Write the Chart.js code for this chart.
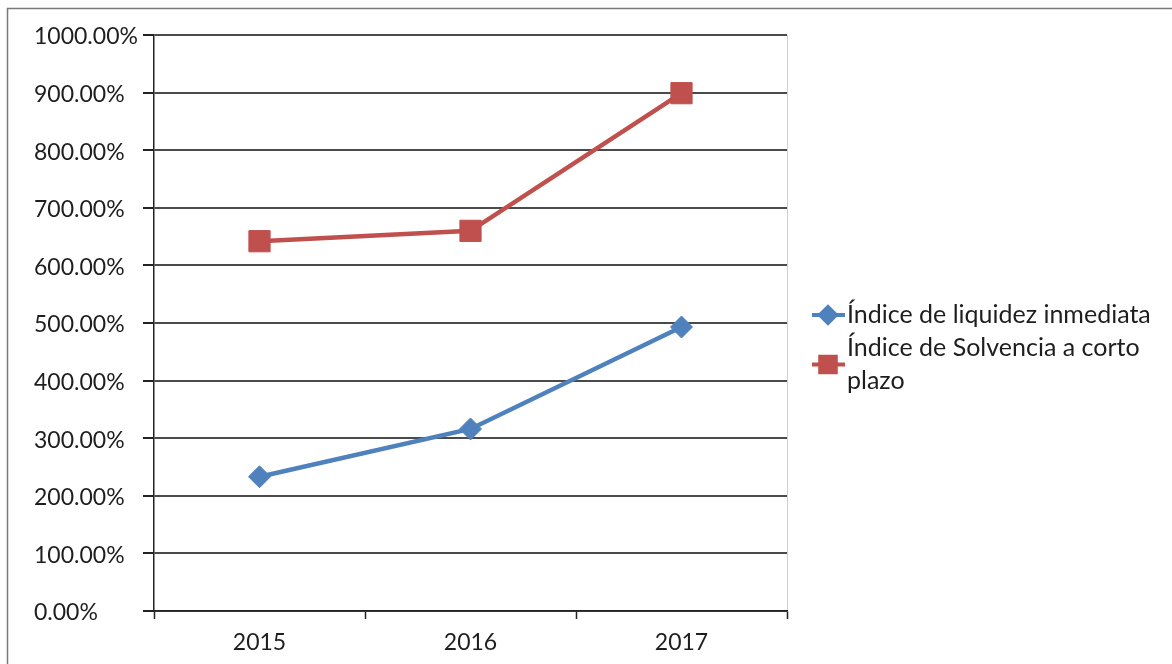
<!DOCTYPE html>
<html lang="es">
<head>
    <meta charset="UTF-8">
    <title>Índices de liquidez</title>
    <style>
        html, body { margin: 0; padding: 0; background: #fff; }
        #wrap { position: relative; width: 1172px; height: 664px; }
    </style>
</head>
<body>
    <div id="wrap"><canvas id="chart" width="1172" height="664"></canvas></div>

    <script src="https://cdn.jsdelivr.net/npm/chart.js"></script>
    <script>
        const years = ['2015', '2016', '2017'];
        const seriesNames = ['Índice de liquidez inmediata', 'Índice de Solvencia a corto plazo'];
        const liquidez = [233, 316, 493];
        const solvencia = [642, 660, 899];
        const yMin = 0, yMax = 1000, yStep = 100;

        const FONT = 'Lato, "Open Sans", sans-serif';
        const TEXT = '#1e1e1e';

        // outer frame, right edge of plot area and a wrapped legend on the right
        const framePlugin = {
            id: 'frame',
            beforeDraw(chart) {
                const ctx = chart.ctx;
                ctx.save();
                ctx.strokeStyle = '#7a7a7a';
                ctx.lineWidth = 1.5;
                ctx.strokeRect(7.5, 8.5, 1300, 800);
                const a = chart.chartArea;
                ctx.strokeStyle = '#d0d0d0';
                ctx.lineWidth = 1;
                ctx.beginPath();
                ctx.moveTo(a.right + 0.5, a.top);
                ctx.lineTo(a.right + 0.5, a.bottom);
                ctx.stroke();
                ctx.restore();
            },
            afterDraw(chart) {
                const ctx = chart.ctx;
                const a = chart.chartArea;
                const x0 = a.right + 25;
                const textX = x0 + 35;
                const maxW = 1172 - textX - 12;
                const lineH = 33;
                let y = 315;
                ctx.save();
                ctx.font = '25px ' + FONT;
                ctx.textBaseline = 'middle';
                ctx.fillStyle = TEXT;
                chart.data.datasets.forEach(ds => {
                    // wrap label into lines
                    const words = ds.label.split(' ');
                    const lines = [];
                    let cur = '';
                    words.forEach(w => {
                        const t = cur ? cur + ' ' + w : w;
                        if (ctx.measureText(t).width > maxW && cur) { lines.push(cur); cur = w; }
                        else cur = t;
                    });
                    lines.push(cur);
                    const cy = y + (lines.length - 1) * lineH / 2;
                    ctx.strokeStyle = ds.borderColor;
                    ctx.lineWidth = 4;
                    ctx.beginPath();
                    ctx.moveTo(x0, cy);
                    ctx.lineTo(x0 + 33, cy);
                    ctx.stroke();
                    Chart.helpers.drawPoint(ctx, {
                        pointStyle: ds.pointStyle,
                        radius: ds.pointStyle === 'rect' ? 11 : 8,
                        borderWidth: 1
                    }, x0 + 16, cy);
                    ctx.fillStyle = ds.borderColor;
                    ctx.fill();
                    ctx.fillStyle = TEXT;
                    lines.forEach((l, i) => ctx.fillText(l, textX, y + i * lineH));
                    y += lines.length * lineH;
                });
                ctx.restore();
            }
        };

        new Chart(document.getElementById('chart'), {
            type: 'line',
            data: {
                labels: years,
                datasets: [
                    {
                        label: seriesNames[0],
                        data: liquidez,
                        borderColor: '#4F81BD',
                        backgroundColor: '#4F81BD',
                        borderWidth: 4.5,
                        pointStyle: 'rectRot',
                        pointRadius: 11,
                        pointHoverRadius: 11,
                        pointBorderWidth: 1
                    },
                    {
                        label: seriesNames[1],
                        data: solvencia,
                        borderColor: '#C0504D',
                        backgroundColor: '#C0504D',
                        borderWidth: 4.5,
                        pointStyle: 'rect',
                        pointRadius: 15,
                        pointHoverRadius: 15,
                        pointBorderWidth: 1
                    }
                ]
            },
            options: {
                responsive: false,
                animation: false,
                devicePixelRatio: 1,
                layout: { padding: { left: 34, right: 385, top: 35, bottom: 0 } },
                plugins: {
                    legend: { display: false },
                    tooltip: { enabled: false }
                },
                scales: {
                    x: {
                        offset: true,
                        grid: {
                            offset: true,
                            drawOnChartArea: false,
                            drawTicks: true,
                            tickLength: 8,
                            tickColor: '#222',
                            tickWidth: 1.5
                        },
                        border: { color: '#222', width: 1.5 },
                        ticks: {
                            color: TEXT,
                            font: { family: FONT, size: 23 },
                            padding: 10,
                            maxRotation: 0
                        },
                        afterFit(s) { s.height = 53; }
                    },
                    y: {
                        min: yMin,
                        max: yMax,
                        grid: {
                            color: '#4a4a4a',
                            lineWidth: 2,
                            drawTicks: true,
                            tickLength: 11,
                            tickColor: '#222'
                        },
                        border: { color: '#222', width: 1.5 },
                        ticks: {
                            stepSize: yStep,
                            crossAlign: 'far',
                            color: TEXT,
                            font: { family: FONT, size: 23 },
                            labelOffset: 2,
                            callback: v => v.toFixed(2) + '%'
                        },
                        afterFit(s) { s.width = 120; }
                    }
                }
            },
            plugins: [framePlugin]
        });
    </script>
</body>
</html>
